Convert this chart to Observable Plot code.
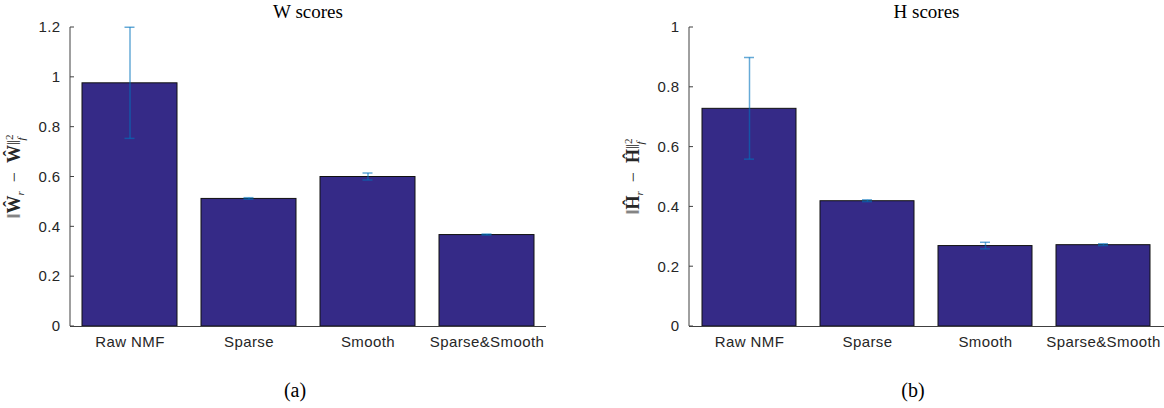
<!DOCTYPE html>
<html>
<head>
<meta charset="utf-8">
<script src="https://cdn.jsdelivr.net/npm/d3@7"></script>
<script src="https://cdn.jsdelivr.net/npm/@observablehq/plot@0.6"></script>
<style>
  html, body { margin: 0; padding: 0; background: #fff; }
  #wrap { position: relative; width: 1164px; height: 408px; overflow: hidden; }
  .panel { position: absolute; top: 0; }
  .cap { position: absolute; top: 379px; width: 60px; margin-left: -30px; text-align: center;
         font-family: "Liberation Serif", "DejaVu Serif", serif; font-size: 20px; color: #000; }
</style>
</head>
<body>
<div id="wrap">
  <div class="panel" id="pa" style="left:0px"></div>
  <div class="panel" id="pb" style="left:582px"></div>
  <div class="cap" style="left:295px">(a)</div>
  <div class="cap" style="left:913px">(b)</div>
</div>
<script>
const categories = ["Raw NMF", "Sparse", "Smooth", "Sparse&Smooth"];
const wMean = [0.976, 0.512, 0.600, 0.367];
const wErr  = [0.223, 0.003, 0.014, 0.002];
const hMean = [0.728, 0.419, 0.269, 0.272];
const hErr  = [0.170, 0.003, 0.011, 0.003];
const wTicks = [0, 0.2, 0.4, 0.6, 0.8, 1, 1.2];
const hTicks = [0, 0.2, 0.4, 0.6, 0.8, 1];

const barFill = "#352a87";
const errColor = "#0072bd";
const axisColor = "#404040";
const sans = "'Liberation Sans', Arial, Helvetica, sans-serif";
const serif = "'Liberation Serif', 'DejaVu Serif', serif";

function panel({mean, err, ticks, ymax, title, letter, marginLeft, marginRight}) {
  const data = categories.map((c, i) => ({cat: c, v: mean[i], lo: mean[i] - err[i], hi: mean[i] + err[i]}));
  const plot = Plot.plot({
    width: 582,
    height: 350,
    marginLeft, marginRight,
    marginTop: 27,
    marginBottom: 24,
    style: {fontFamily: sans, fontSize: "15px", letterSpacing: "0.4px", color: "#262626", background: "transparent", overflow: "visible"},
    x: {domain: categories, paddingInner: 0.2, paddingOuter: 0.1, label: null},
    y: {domain: [0, ymax], label: null},
    marks: [
      Plot.barY(data, {x: "cat", y: "v", fill: barFill, stroke: "#111", strokeWidth: 1}),
      Plot.ruleX(data, {x: "cat", y1: "lo", y2: "hi", stroke: errColor, strokeOpacity: 0.6, strokeWidth: 1.5}),
      Plot.ruleY([0], {stroke: axisColor, strokeWidth: 1}),
      Plot.axisY({ticks, tickSize: 0, tickPadding: 10, tickFormat: d3.format("~g")}),
      Plot.axisX({tickSize: 0, tickPadding: 10})
    ]
  });
  const y = plot.scale("y");
  const x = plot.scale("x");
  const svg = d3.select(plot);
  const x0 = x.range[0], x1 = x.range[1];
  const yb = y.range[0], yt = y.range[1];
  const g = svg.append("g");
  // left axis line and inward ticks
  g.append("line").attr("x1", x0).attr("x2", x0).attr("y1", yb).attr("y2", yt)
    .attr("stroke", axisColor).attr("stroke-width", 1);
  g.selectAll(".tk").data(ticks).join("line")
    .attr("x1", x0).attr("x2", x0 + 4)
    .attr("y1", d => y.apply(d)).attr("y2", d => y.apply(d))
    .attr("stroke", axisColor).attr("stroke-width", 1);
  // error bar caps
  const bw = x.bandwidth;
  const capHalf = 5;
  for (const d of data) {
    const cx = x.apply(d.cat) + bw / 2;
    for (const v of [d.lo, d.hi]) {
      g.append("line").attr("x1", cx - capHalf).attr("x2", cx + capHalf)
        .attr("y1", y.apply(v)).attr("y2", y.apply(v))
        .attr("stroke", errColor).attr("stroke-opacity", 0.6).attr("stroke-width", 1.5);
    }
  }
  // title
  svg.append("text")
    .attr("x", (x0 + x1) / 2).attr("y", yt - 9)
    .attr("text-anchor", "middle")
    .attr("font-family", serif).attr("font-size", 19)
    .attr("letter-spacing", 0)
    .attr("fill", "#000").text(title);
  // y-axis label (math expression) built with tspans
  const cy = (yb + yt) / 2;
  const lx = x0 - 50;
  const t = svg.append("text")
    .attr("transform", `translate(${lx},${cy}) rotate(-90)`)
    .attr("text-anchor", "middle")
    .attr("font-family", serif)
    .attr("font-size", 18)
    .attr("letter-spacing", 0)
    .attr("fill", "#262626");
  t.append("tspan").text("\u2016");
  t.append("tspan").attr("font-weight", "bold").text(letter + "\u0302");
  t.append("tspan").attr("font-size", 11).attr("font-style", "italic").attr("dy", 4).text("r");
  t.append("tspan").attr("dy", -4).text("\u2002\u2212\u2002");
  t.append("tspan").attr("font-weight", "bold").text(letter + "\u0302");
  t.append("tspan").text("\u2016");
  t.append("tspan").attr("font-size", 11).attr("dy", -7).text("2");
  t.append("tspan").attr("font-size", 11).attr("font-style", "italic").attr("dx", -6).attr("dy", 12).text("f");
  return plot;
}

document.getElementById("pa").appendChild(panel({
  mean: wMean, err: wErr, ticks: wTicks, ymax: 1.2, title: "W scores", letter: "W",
  marginLeft: 70, marginRight: 36
}));
document.getElementById("pb").appendChild(panel({
  mean: hMean, err: hErr, ticks: hTicks, ymax: 1, title: "H scores", letter: "H",
  marginLeft: 107, marginRight: 0
}));
</script>
</body>
</html>
